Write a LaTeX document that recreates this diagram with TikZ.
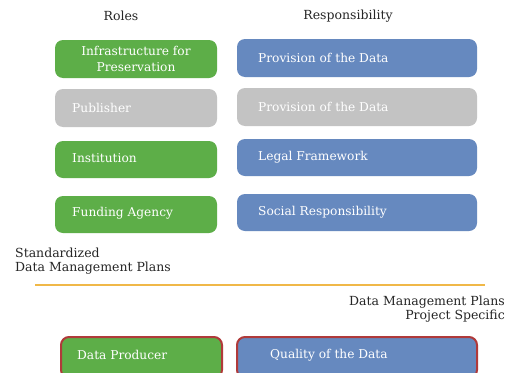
\documentclass[tikz,border=0pt]{standalone}
\usepackage{fontspec}
\setmainfont{DejaVu Serif}
\definecolor{rgreen}{HTML}{5DAE48}
\definecolor{rblue}{HTML}{6689BF}
\definecolor{rgray}{HTML}{C3C3C3}
\definecolor{rorange}{HTML}{F0B848}
\definecolor{rred}{HTML}{B03A3A}
\definecolor{rtext}{HTML}{262626}
\tikzset{
  box/.style={rounded corners=8pt, inner sep=0pt},
  boxtext/.style={text=white, font=\fontsize{12.2}{14}\selectfont, anchor=west, inner sep=0pt},
  head/.style={text=rtext, font=\fontsize{12.5}{14.5}\selectfont, inner sep=0pt},
  hl/.style={line width=2pt, draw=rred},
}
\begin{document}
\begin{tikzpicture}[x=1pt,y=-1pt]
\useasboundingbox[fill=white] (0,0) rectangle (513,372);
\node[head] (roles) at (121,16) {Roles};
\node[head] (resp) at (348,16) {Responsibility};
% row 1
\fill[box,rgreen] (55,40) rectangle (217,78);
\node[text=white, font=\fontsize{12.2}{15.5}\selectfont, align=center, inner sep=0pt] (r1) at (136,59) {Infrastructure for\\Preservation};
\fill[box,rblue] (237,39) rectangle (477,77);
\node[boxtext] (s1) at (258,58) {Provision of the Data};
% row 2
\fill[box,rgray] (55,89) rectangle (217,127);
\node[boxtext] (r2) at (72,108) {Publisher};
\fill[box,rgray] (237,88) rectangle (477,126);
\node[boxtext] (s2) at (258,107) {Provision of the Data};
% row 3
\fill[box,rgreen] (55,141) rectangle (217,178);
\node[boxtext] (r3) at (72,158) {Institution};
\fill[box,rblue] (237,139) rectangle (477,176);
\node[boxtext] (s3) at (258,157) {Legal Framework};
% row 4
\fill[box,rgreen] (55,196) rectangle (217,233);
\node[boxtext] (r4) at (72,213) {Funding Agency};
\fill[box,rblue] (237,194) rectangle (477,231);
\node[boxtext] (s4) at (258,212) {Social Responsibility};
% standardized
\node[head, anchor=west, align=left] (std) at (15,261) {Standardized\\Data Management Plans};
\draw[rorange, line width=2pt] (35,285) -- (485,285);
\node[head, anchor=east, align=right] (proj) at (505,309) {Data Management Plans\\Project Specific};
% bottom
\filldraw[box,fill=rgreen,hl] (61,337) rectangle (222,378);
\node[boxtext] (r5) at (77,355) {Data Producer};
\filldraw[box,fill=rblue,hl] (237,337) rectangle (477,378);
\node[boxtext] (s5) at (270,355) {Quality of the Data};
\end{tikzpicture}
\end{document}
